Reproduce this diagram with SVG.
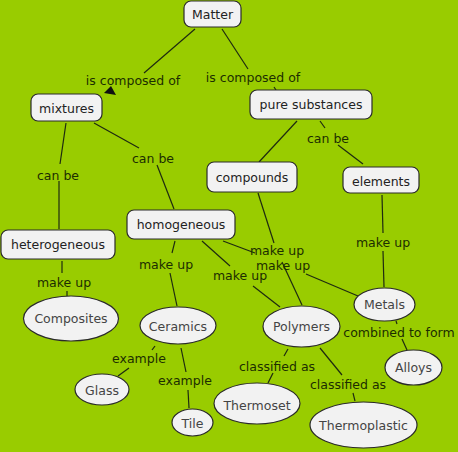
<svg xmlns="http://www.w3.org/2000/svg" width="458" height="452" viewBox="0 0 458 452">
<style>
.bg{fill:#99cc00}
.n{fill:#f2f2f2;stroke:#2a2a2a;stroke-width:1.2}
.t{font-family:"DejaVu Sans",Verdana,sans-serif;font-size:12.5px;fill:#222;text-anchor:middle;dominant-baseline:central}
.e{fill:#444}
.l{font-family:"DejaVu Sans",Verdana,sans-serif;font-size:12.5px;fill:#1c2e00;text-anchor:middle;dominant-baseline:central}
.c line{stroke:#1e2a10;stroke-width:1.2}
</style>
<rect class="bg" x="0" y="0" width="458" height="452"/>
<g id="connectors" class="c">
<line x1="195" y1="29" x2="144" y2="73"/>
<line x1="222" y1="29" x2="248" y2="69"/>
<line x1="274" y1="87" x2="276" y2="90"/>
<line x1="320" y1="121" x2="325" y2="128"/>
<line x1="338" y1="145" x2="363" y2="164"/>
<line x1="297" y1="121" x2="259" y2="162"/>
<line x1="66" y1="123" x2="60" y2="164"/>
<line x1="59" y1="181" x2="59" y2="229"/>
<line x1="94" y1="123" x2="139" y2="148"/>
<line x1="157" y1="165" x2="174" y2="209"/>
<line x1="62" y1="261" x2="62" y2="273"/>
<line x1="67" y1="291" x2="67" y2="296"/>
<line x1="175" y1="241" x2="172" y2="253"/>
<line x1="170" y1="273" x2="177" y2="306"/>
<line x1="155" y1="346" x2="152" y2="350"/>
<line x1="129" y1="368" x2="118" y2="376"/>
<line x1="181" y1="348" x2="186" y2="372"/>
<line x1="188" y1="390" x2="189" y2="408"/>
<line x1="202" y1="241" x2="230" y2="266"/>
<line x1="253" y1="286" x2="280" y2="307"/>
<line x1="223" y1="241" x2="255" y2="253"/>
<line x1="306" y1="274" x2="358" y2="296"/>
<line x1="258" y1="193" x2="274" y2="243"/>
<line x1="282" y1="262" x2="302" y2="305"/>
<line x1="382" y1="195" x2="383" y2="233"/>
<line x1="383" y1="251" x2="384" y2="287"/>
<line x1="396" y1="321" x2="397" y2="324"/>
<line x1="402" y1="339" x2="407" y2="350"/>
<line x1="288" y1="349" x2="284" y2="356"/>
<line x1="273" y1="373" x2="268" y2="383"/>
<line x1="320" y1="348" x2="342" y2="375"/>
<line x1="353" y1="393" x2="355" y2="401"/>
<polygon points="111,86 104,93 116,95" fill="#111"/>
</g>
<g id="labels">
<text class="l" x="133" y="80">is composed of</text>
<text class="l" x="253" y="77">is composed of</text>
<text class="l" x="328" y="138">can be</text>
<text class="l" x="58" y="175">can be</text>
<text class="l" x="153" y="158">can be</text>
<text class="l" x="64" y="282">make up</text>
<text class="l" x="166" y="264">make up</text>
<text class="l" x="383" y="242">make up</text>
<text class="l" x="277" y="250">make up</text>
<text class="l" x="283" y="265">make up</text>
<text class="l" x="240" y="275">make up</text>
<text class="l" x="139" y="358">example</text>
<text class="l" x="185" y="380">example</text>
<text class="l" x="277" y="366">classified as</text>
<text class="l" x="348" y="384">classified as</text>
<text class="l" x="399" y="332">combined to form</text>
</g>
<g id="matter"><rect class="n" x="184" y="1" width="57" height="26" rx="7"/><text class="t" x="212.5" y="14.5">Matter</text></g>
<g id="mixtures"><rect class="n" x="31" y="94" width="71" height="27" rx="7"/><text class="t" x="66.5" y="108">mixtures</text></g>
<g id="pure-substances"><rect class="n" x="250" y="90" width="122" height="29" rx="7"/><text class="t" x="311" y="104.5">pure substances</text></g>
<g id="compounds"><rect class="n" x="207" y="162" width="90" height="30" rx="7"/><text class="t" x="252" y="177">compounds</text></g>
<g id="elements"><rect class="n" x="343" y="167" width="76" height="26" rx="7"/><text class="t" x="381" y="181">elements</text></g>
<g id="heterogeneous"><rect class="n" x="1" y="230" width="114" height="29" rx="7"/><text class="t" x="58" y="244.5">heterogeneous</text></g>
<g id="homogeneous"><rect class="n" x="127" y="210" width="108" height="29" rx="7"/><text class="t" x="181" y="224.5">homogeneous</text></g>
<g id="composites"><ellipse class="n" cx="71" cy="318.5" rx="47.5" ry="22.5"/><text class="t e" x="71" y="318.5">Composites</text></g>
<g id="ceramics"><ellipse class="n" cx="178" cy="325.5" rx="38" ry="18.5"/><text class="t e" x="178" y="326">Ceramics</text></g>
<g id="glass"><ellipse class="n" cx="102" cy="389.5" rx="27" ry="15.5"/><text class="t e" x="102" y="390">Glass</text></g>
<g id="tile"><ellipse class="n" cx="192.5" cy="422.5" rx="20.5" ry="13.5"/><text class="t e" x="192.5" y="423">Tile</text></g>
<g id="polymers"><ellipse class="n" cx="301.5" cy="326.5" rx="38.5" ry="20.5"/><text class="t e" x="301.5" y="326">Polymers</text></g>
<g id="metals"><ellipse class="n" cx="384.5" cy="304.5" rx="30.5" ry="16.5"/><text class="t e" x="384.5" y="304">Metals</text></g>
<g id="alloys"><ellipse class="n" cx="413.5" cy="367.5" rx="28.5" ry="17.5"/><text class="t e" x="413.5" y="367">Alloys</text></g>
<g id="thermoset"><ellipse class="n" cx="257" cy="403.5" rx="43" ry="20.5"/><text class="t e" x="257" y="405">Thermoset</text></g>
<g id="thermoplastic"><ellipse class="n" cx="363.5" cy="425" rx="53.5" ry="23"/><text class="t e" x="363.5" y="425.5">Thermoplastic</text></g>
</svg>
